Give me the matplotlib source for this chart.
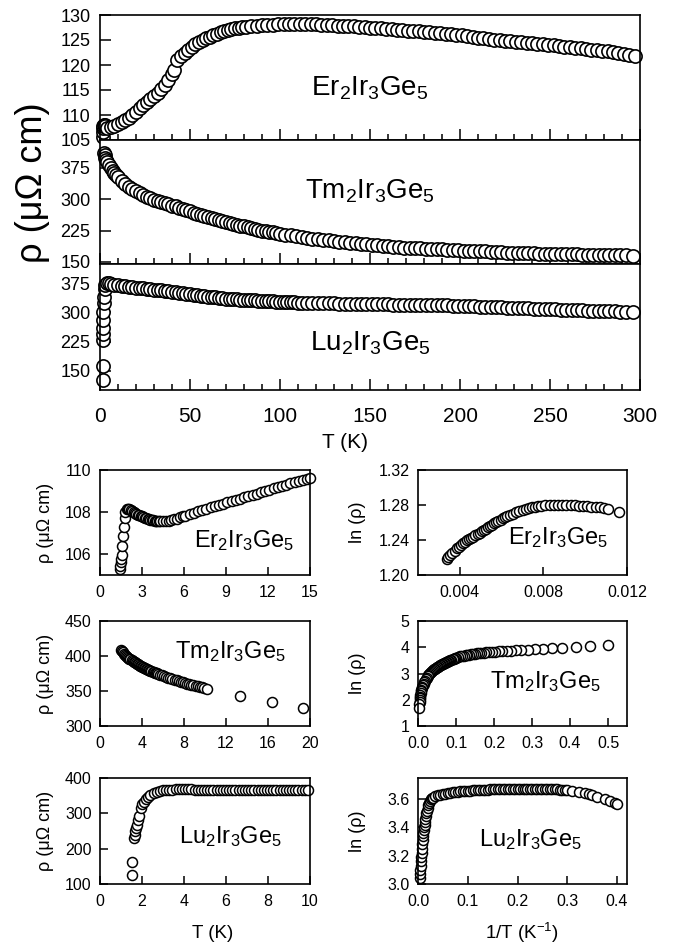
import matplotlib.pyplot as plt

plt.rcParams['font.family'] = ['Liberation Sans', 'DejaVu Sans']
plt.rcParams['mathtext.fontset'] = 'custom'
plt.rcParams['mathtext.rm'] = 'Liberation Sans'
plt.rcParams['mathtext.it'] = 'Liberation Sans:italic'
plt.rcParams['mathtext.default'] = 'regular'

# ---------------- full temperature range (0-300 K) ----------------
er_T = [1.5, 1.6, 1.7, 1.8, 2, 2.5, 3, 4, 6, 8, 10, 12, 14, 16, 18, 20, 22, 24, 26, 28,
        30, 32, 34, 36, 38, 40, 41, 43, 45, 47, 49, 51, 53, 55, 57, 59, 61, 63, 65, 67,
        69, 71, 73, 75, 77, 79, 81, 84, 87, 90, 93, 96, 99, 102, 105, 108, 111, 114,
        117, 120, 123, 126, 129, 132, 135, 138, 141, 144, 147, 150, 153, 156, 159, 162,
        165, 168, 171, 174, 177, 180, 183, 186, 189, 192, 195, 198, 201, 204, 207, 210,
        213, 216, 219, 222, 225, 228, 231, 234, 237, 240, 243, 246, 249, 252, 255, 258,
        261, 264, 267, 270, 273, 276, 279, 282, 285, 288, 291, 294, 297]
er_rho = [105.6, 106.6, 107.4, 107.9, 108.1, 108.0, 107.8, 107.4, 107.6, 107.9, 108.3,
          108.7, 109.1, 109.5, 110.1, 110.7, 111.4, 112.1, 112.7, 113.2, 113.8, 114.5,
          115.2, 116.0, 117.0, 118.2, 119.0, 121.0, 121.8, 122.5, 123.1, 123.7, 124.2,
          124.6, 125.0, 125.4, 125.7, 126.0, 126.3, 126.6, 126.9, 127.1, 127.3, 127.4,
          127.5, 127.6, 127.7, 127.8, 127.9, 128.0, 128.1, 128.1, 128.2, 128.2, 128.2,
          128.3, 128.3, 128.3, 128.2, 128.2, 128.1, 128.1, 128.0, 127.9, 127.9, 127.8,
          127.8, 127.7, 127.6, 127.5, 127.4, 127.4, 127.3, 127.2, 127.1, 127.0, 126.9,
          126.9, 126.8, 126.7, 126.6, 126.5, 126.4, 126.3, 126.2, 126.1, 126.0, 125.8,
          125.7, 125.5, 125.4, 125.2, 125.1, 125.0, 124.9, 124.8, 124.7, 124.6, 124.5,
          124.4, 124.3, 124.2, 124.1, 124.0, 123.8, 123.7, 123.6, 123.5, 123.4, 123.2,
          123.1, 123.0, 122.9, 122.8, 122.6, 122.4, 122.2, 122.0, 121.8]

tm_T = [2, 2.5, 3, 3.5, 4, 5, 6, 7, 8, 9, 10, 12, 14, 16, 18, 20, 22, 24, 26, 28, 30,
        32, 34, 36, 38, 40, 42, 44, 46, 48, 50, 52, 54, 56, 58, 60, 62, 64, 66, 68, 70,
        72, 74, 76, 78, 80, 82, 84, 86, 88, 90, 92, 94, 96, 98, 100, 103, 106, 109, 112,
        115, 118, 121, 124, 127, 130, 133, 136, 139, 142, 145, 148, 151, 154, 157, 160,
        163, 166, 169, 172, 175, 178, 181, 184, 187, 190, 193, 196, 199, 202, 205, 208,
        211, 214, 217, 220, 223, 226, 229, 232, 235, 238, 241, 244, 247, 250, 253, 256,
        259, 262, 265, 268, 271, 274, 277, 280, 283, 286, 289, 292, 296]
tm_rho = [410, 405, 400, 395, 390, 382, 375, 368, 362, 357, 353, 344, 337, 330, 324, 319,
          314, 310, 306, 302, 299, 296, 293, 290, 288, 285, 283, 280, 277, 274, 271, 268,
          265, 262, 260, 257, 255, 252, 250, 248, 245, 243, 241, 239, 237, 235, 233, 231,
          229, 227, 225, 223.5, 222, 220.5, 219, 217.5, 215.5, 213.5, 211.5, 209.5, 208,
          206, 204.5, 203, 201.5, 200, 198.5, 197, 196, 194.5, 193.5, 192, 191, 190,
          188.5, 187.5, 186.5, 185.5, 184.5, 184, 183.5, 183, 182, 181.5, 180.5, 180, 179,
          178.5, 178, 177, 176.5, 176, 175.5, 175, 174.5, 174, 173, 172.5, 172, 172, 171.5,
          171, 170.5, 170, 170, 169.5, 169, 169, 168.5, 168, 168, 167.5, 167, 167, 166.5,
          166.5, 166, 166, 165.5, 165.5, 165]

lu_T = [1.5, 1.5, 1.6, 1.7, 1.75, 1.8, 1.9, 2.0, 2.2, 2.5, 3, 4, 5, 6, 8, 10, 12, 14,
        16, 18, 20, 22, 24, 26, 28, 30, 32, 34, 36, 38, 40, 42, 44, 46, 48, 50, 52, 54,
        56, 58, 60, 62, 64, 66, 68, 70, 72, 74, 76, 78, 80, 82, 84, 86, 88, 90, 92, 94,
        96, 98, 100, 102, 104, 106, 108, 110, 112, 115, 118, 121, 124, 127, 130, 133, 136,
        139, 142, 145, 148, 151, 154, 157, 160, 163, 166, 169, 172, 175, 178, 181, 184,
        187, 190, 193, 196, 199, 202, 205, 208, 211, 214, 217, 220, 223, 226, 229, 232,
        235, 238, 241, 244, 247, 250, 253, 256, 259, 262, 265, 268, 271, 274, 277, 280,
        283, 286, 289, 292, 296]
lu_rho = [125, 162, 230, 245, 260, 280, 300, 325, 340, 360, 372, 375, 375, 374, 372, 370,
          368.5, 367, 366, 365, 364, 363, 362, 361, 360, 359, 358, 357, 356, 355, 354, 352.5,
          351, 349.5, 348, 347, 346, 344.5, 343, 342, 341, 340, 339, 338, 337, 336, 335,
          334.5, 334, 333, 332.5, 332, 331.5, 331, 330.5, 330, 329.5, 329, 328.5, 328,
          327.5, 327, 326.5, 326, 326, 325.5, 325, 325, 324.5, 324, 324, 323.5, 323.5, 323,
          323, 322.5, 322.5, 322, 322, 321.5, 321.5, 321, 321, 320.5, 320.5, 320, 320,
          319.5, 319.5, 319, 319, 318.5, 318, 318, 317.5, 317, 316.5, 316, 315.5, 315,
          314.5, 314, 313.5, 313, 312.5, 312, 311.5, 311, 310.5, 310, 309.5, 309, 308.5,
          308, 307.5, 307, 306.5, 306, 305.5, 305, 304.5, 304, 303.5, 303, 302.5, 302,
          302, 301.5]

# ---------------- low temperature detail ----------------
er_lowT = [1.45, 1.45, 1.5, 1.5, 1.55, 1.6, 1.65, 1.7, 1.75, 1.8, 1.9, 2.0, 2.1, 2.2,
           2.3, 2.4, 2.5, 2.6, 2.7, 2.8, 2.9, 3.0, 3.1, 3.2, 3.3, 3.4, 3.5, 3.6, 3.7, 3.8,
           3.9, 4.0, 4.1, 4.2, 4.3, 4.5, 4.7, 4.9, 5.1, 5.3, 5.5, 5.7, 5.9, 6.1, 6.4, 6.7,
           7.0, 7.3, 7.6, 7.9, 8.2, 8.5, 8.8, 9.1, 9.4, 9.7, 10.0, 10.3, 10.6, 10.9, 11.2,
           11.5, 11.8, 12.1, 12.4, 12.7, 13.0, 13.3, 13.6, 13.9, 14.2, 14.5, 14.8, 15.0]
er_lowrho = [105.3, 105.45, 105.6, 105.75, 105.95, 106.4, 106.85, 107.3, 107.7, 108.0,
             108.15, 108.15, 108.12, 108.08, 108.04, 108.0, 107.96, 107.92, 107.88,
             107.85, 107.82, 107.79, 107.76, 107.73, 107.7, 107.68, 107.66, 107.64,
             107.62, 107.6, 107.58, 107.57, 107.56, 107.55, 107.55, 107.55, 107.56,
             107.58, 107.61, 107.65, 107.69, 107.74, 107.79, 107.83, 107.9, 107.97,
             108.04, 108.1, 108.16, 108.22, 108.28, 108.34, 108.4, 108.46, 108.52, 108.58,
             108.64, 108.7, 108.76, 108.82, 108.88, 108.94, 109.0, 109.06, 109.12, 109.18,
             109.24, 109.3, 109.36, 109.42, 109.48, 109.54, 109.58, 109.6]

tm_lowT = [2.0, 2.1, 2.2, 2.3, 2.4, 2.5, 2.6, 2.7, 2.8, 2.9, 3.0, 3.1, 3.2, 3.3, 3.4, 3.5,
           3.6, 3.7, 3.8, 3.9, 4.0, 4.1, 4.2, 4.3, 4.4, 4.5, 4.6, 4.7, 4.8, 4.9, 5.0, 5.1,
           5.2, 5.3, 5.4, 5.5, 5.7, 5.9, 6.1, 6.3, 6.5, 6.7, 6.9, 7.1, 7.3, 7.5, 7.7, 7.9,
           8.1, 8.3, 8.5, 8.7, 8.9, 9.1, 9.3, 9.5, 9.7, 9.9, 10.2, 13.3, 16.4, 19.3]
tm_lowrho = [409, 407, 405, 403, 401.5, 400, 398.7, 397.5, 396.2, 395, 394, 393, 392, 391,
             390, 389, 388, 387, 386.2, 385.5, 384.7, 384, 383.2, 382.5, 381.7, 381, 380.2,
             379.5, 378.7, 378, 377.5, 377, 376.2, 375.5, 375, 374.5, 373.5, 372.5, 371,
             370, 369, 368, 367, 366, 365, 364.5, 363.5, 362.5, 361.5, 360.5, 360, 359,
             358, 357.5, 356.5, 356, 355, 354, 353, 343, 334, 326]

lu_lowT = [1.5, 1.5, 1.62, 1.65, 1.68, 1.72, 1.75, 1.8, 1.87, 1.95, 2.0, 2.1, 2.2, 2.3,
           2.4, 2.55, 2.7, 2.85, 3.0, 3.15, 3.3, 3.45, 3.6, 3.75, 3.9, 4.05, 4.2, 4.35,
           4.5, 4.65, 4.8, 4.95, 5.1, 5.25, 5.4, 5.55, 5.7, 5.85, 6.0, 6.15, 6.3, 6.45,
           6.6, 6.75, 6.9, 7.05, 7.2, 7.35, 7.5, 7.65, 7.8, 7.95, 8.1, 8.25, 8.4, 8.55,
           8.7, 8.85, 9.0, 9.15, 9.3, 9.45, 9.6, 9.75, 9.9]
lu_lowrho = [126, 163, 230, 240, 250, 258, 266, 280, 292, 315, 325, 333, 340, 346, 352,
             357, 361, 363.5, 365, 366, 366.5, 367, 367.5, 367.5, 367.5, 367.5, 367.5,
             367.5, 367, 367, 367, 367, 367, 367, 367, 367, 367, 367, 367, 366.5, 366.5,
             366.5, 366.5, 366.5, 366.5, 366.5, 366.5, 366.5, 366.5, 366.5, 366.5, 366.5,
             366.5, 366.5, 366.5, 366.5, 366.5, 366.5, 366.5, 366.5, 366.5, 366.5, 366.5,
             366.5, 366.5]

# ---------------- ln(rho) against 1/T ----------------
er_invT = [0.00337, 0.00345, 0.00355, 0.00365, 0.00375, 0.00385, 0.00395, 0.00405,
           0.00415, 0.00425, 0.00435, 0.00445, 0.00455, 0.00465, 0.00475, 0.00485,
           0.00495, 0.00505, 0.00515, 0.00525, 0.00535, 0.00545, 0.00555, 0.00565,
           0.00575, 0.00585, 0.00595, 0.00605, 0.00615, 0.00625, 0.0064, 0.00655, 0.0067,
           0.00685, 0.007, 0.00715, 0.0073, 0.00745, 0.0076, 0.00775, 0.0079, 0.0081,
           0.0083, 0.0085, 0.0087, 0.0089, 0.0091, 0.0093, 0.0095, 0.0097, 0.0099, 0.0101,
           0.0103, 0.0105, 0.0107, 0.0109, 0.0111, 0.0116]
er_ln = [1.218, 1.2205, 1.2225, 1.225, 1.228, 1.2305, 1.2325, 1.2345, 1.2365, 1.238,
         1.2395, 1.241, 1.2425, 1.244, 1.2455, 1.247, 1.2485, 1.25, 1.2515, 1.253, 1.255,
         1.2562, 1.2577, 1.2592, 1.2607, 1.262, 1.2633, 1.2646, 1.2659, 1.267, 1.2685,
         1.27, 1.2715, 1.2728, 1.2742, 1.2754, 1.2765, 1.2774, 1.2782, 1.2789, 1.2794,
         1.2798, 1.28, 1.2801, 1.2801, 1.28, 1.2799, 1.2797, 1.2795, 1.2792, 1.2789,
         1.2785, 1.2781, 1.2777, 1.2772, 1.2766, 1.2758, 1.2724]

tm_invT = [0.5, 0.452, 0.417, 0.38, 0.352, 0.33, 0.308, 0.289, 0.272, 0.258, 0.245,
           0.233, 0.222, 0.212, 0.203, 0.195, 0.187, 0.18, 0.173, 0.167, 0.161, 0.155,
           0.15, 0.145, 0.14, 0.135, 0.13, 0.125, 0.12, 0.115, 0.11, 0.105, 0.1, 0.097,
           0.094, 0.091, 0.088, 0.085, 0.082, 0.079, 0.076, 0.073, 0.07, 0.0675, 0.065,
           0.0625, 0.06, 0.0575, 0.055, 0.0525, 0.05, 0.0475, 0.045, 0.0425, 0.04, 0.0375,
           0.035, 0.0325, 0.03, 0.0275, 0.025, 0.0225, 0.02, 0.018, 0.016, 0.0145, 0.013,
           0.0115, 0.01, 0.009, 0.008, 0.007, 0.006, 0.0055, 0.005, 0.0045, 0.004, 0.0037,
           0.0033]
tm_ln = [4.07, 4.03, 4.01, 3.98, 3.96, 3.94, 3.93, 3.91, 3.9, 3.89, 3.875, 3.865, 3.855,
         3.845, 3.835, 3.825, 3.815, 3.805, 3.795, 3.785, 3.775, 3.765, 3.755, 3.745,
         3.735, 3.72, 3.71, 3.695, 3.68, 3.665, 3.65, 3.62, 3.59, 3.575, 3.56, 3.54, 3.52,
         3.5, 3.48, 3.465, 3.45, 3.43, 3.41, 3.39, 3.37, 3.35, 3.33, 3.31, 3.29, 3.265,
         3.24, 3.215, 3.19, 3.16, 3.13, 3.1, 3.06, 3.02, 2.98, 2.94, 2.89, 2.84, 2.78,
         2.72, 2.66, 2.61, 2.56, 2.5, 2.44, 2.38, 2.32, 2.26, 2.18, 2.12, 2.06, 2.0, 1.92,
         1.82, 1.7]

lu_invT = [0.0033, 0.004, 0.0047, 0.0054, 0.0061, 0.0068, 0.0075, 0.0082, 0.0089,
           0.0096, 0.0103, 0.011, 0.0118, 0.0126, 0.0134, 0.0142, 0.015, 0.016, 0.017,
           0.018, 0.0192, 0.0205, 0.022, 0.024, 0.026, 0.028, 0.03, 0.035, 0.04, 0.045,
           0.05, 0.055, 0.06, 0.065, 0.07, 0.075, 0.08, 0.085, 0.09, 0.095, 0.1, 0.105,
           0.11, 0.115, 0.12, 0.125, 0.13, 0.135, 0.14, 0.145, 0.15, 0.155, 0.16, 0.165,
           0.17, 0.175, 0.18, 0.185, 0.19, 0.195, 0.2, 0.205, 0.21, 0.215, 0.22, 0.225,
           0.23, 0.235, 0.24, 0.245, 0.25, 0.255, 0.26, 0.265, 0.27, 0.275, 0.28, 0.285,
           0.29, 0.295, 0.3, 0.31, 0.323, 0.335, 0.343, 0.35, 0.36, 0.375, 0.385, 0.395,
           0.4]
lu_ln = [3.04, 3.07, 3.1, 3.13, 3.16, 3.19, 3.22, 3.25, 3.28, 3.31, 3.34, 3.36, 3.38,
         3.4, 3.42, 3.44, 3.46, 3.48, 3.5, 3.52, 3.54, 3.56, 3.575, 3.59, 3.6, 3.607,
         3.612, 3.62, 3.627, 3.632, 3.636, 3.64, 3.643, 3.646, 3.649, 3.651, 3.653, 3.655,
         3.657, 3.658, 3.66, 3.661, 3.662, 3.663, 3.664, 3.665, 3.666, 3.667, 3.668,
         3.669, 3.67, 3.67, 3.671, 3.671, 3.672, 3.672, 3.673, 3.673, 3.674, 3.674, 3.674,
         3.675, 3.675, 3.675, 3.675, 3.675, 3.675, 3.675, 3.675, 3.674, 3.674, 3.673,
         3.673, 3.672, 3.671, 3.67, 3.669, 3.668, 3.667, 3.666, 3.664, 3.66, 3.654, 3.645,
         3.638, 3.63, 3.615, 3.6, 3.59, 3.575, 3.565]

ER = r'Er$_2$Ir$_3$Ge$_5$'
TM = r'Tm$_2$Ir$_3$Ge$_5$'
LU = r'Lu$_2$Ir$_3$Ge$_5$'

W, H = 677, 950
fig = plt.figure(figsize=(W / 100, H / 100), dpi=100)


def panel(left, top, right, bottom):
    ax = fig.add_axes([left / W, 1 - bottom / H, (right - left) / W, (bottom - top) / H])
    for s in ax.spines.values():
        s.set_linewidth(1.2)
    ax.tick_params(which='both', direction='in', top=False, right=False, width=1.1)
    return ax


def circles(ax, x, y, size, edge):
    ax.plot(x, y, 'o', ls='none', mfc='white', mec='black', ms=size, mew=edge,
            clip_on=False)


# top block: three stacked panels sharing T
top_panels = [
    (15, 140, er_T, er_rho, (105, 130), [105, 110, 115, 120, 125, 130], ER, 0.41),
    (140, 264, tm_T, tm_rho, (145, 442), [150, 225, 300, 375], TM, 0.59),
    (264, 390, lu_T, lu_rho, (100, 425), [150, 225, 300, 375], LU, 0.37),
]
for i, (top, bot, x, y, ylim, yt, name, ty) in enumerate(top_panels):
    ax = panel(100, top, 640, bot)
    circles(ax, x, y, 9.5, 1.2)
    ax.set_xlim(0, 300)
    ax.set_ylim(*ylim)
    ax.set_yticks(yt)
    ax.set_xticks(range(0, 301, 50))
    ax.set_xticks(range(0, 301, 10), minor=True)
    ax.tick_params(which='major', length=8)
    ax.tick_params(which='minor', length=4)
    ax.tick_params(axis='y', labelsize=13, pad=7)
    ax.tick_params(axis='x', labelsize=15, pad=12)
    if i < 2:
        ax.tick_params(axis='x', labelbottom=False)
    ax.text(0.5, ty, name, transform=ax.transAxes, fontsize=20, ha='center', va='center')

fig.text(32 / W, 1 - 183 / H, 'ρ (μΩ cm)', rotation=90, fontsize=26, ha='center', va='center')
fig.text(345 / W, 1 - 443 / H, 'T (K)', fontsize=15, ha='center', va='center')

# lower grid: rho(T) at low T on the left, ln(rho) vs 1/T on the right
rows = [(470, 575), (621, 726), (778, 884)]

left_specs = [
    (er_lowT, er_lowrho, (0, 15), range(0, 16, 3), (105, 110), [106, 108, 110], ER, 0.686, 0.33),
    (tm_lowT, tm_lowrho, (0, 20), range(0, 21, 4), (300, 450), [300, 350, 400, 450], TM, 0.62, 0.705),
    (lu_lowT, lu_lowrho, (0, 10), range(0, 11, 2), (100, 400), [100, 200, 300, 400], LU, 0.62, 0.45),
]
right_specs = [
    (er_invT, er_ln, (0.002, 0.012), [0.004, 0.008, 0.012], (1.20, 1.32),
     [1.20, 1.24, 1.28, 1.32], ER, 0.67, 0.36, '%.3f', '%.2f'),
    (tm_invT, tm_ln, (0, 0.55), [0, 0.1, 0.2, 0.3, 0.4, 0.5], (1, 5),
     [1, 2, 3, 4, 5], TM, 0.61, 0.42, '%.1f', '%d'),
    (lu_invT, lu_ln, (0, 0.42), [0, 0.1, 0.2, 0.3, 0.4], (3.0, 3.75),
     [3.0, 3.2, 3.4, 3.6], LU, 0.536, 0.415, '%.1f', '%.1f'),
]

for (top, bot), spec in zip(rows, left_specs):
    x, y, xl, xt, yl, yt, name, tx, ty = spec
    ax = panel(100, top, 310, bot)
    circles(ax, x, y, 7.2, 1.1)
    ax.set_xlim(*xl)
    ax.set_xticks(list(xt))
    ax.set_ylim(*yl)
    ax.set_yticks(yt)
    ax.tick_params(length=6, labelsize=11.5)
    ax.tick_params(axis='x', pad=7.5)
    ax.tick_params(axis='y', pad=6)
    ax.text(tx, ty, name, transform=ax.transAxes, fontsize=17, ha='center', va='center')
    fig.text(45 / W, 1 - (top + bot) / 2 / H, 'ρ (μΩ cm)', rotation=90, fontsize=13,
             ha='center', va='center')

for (top, bot), spec in zip(rows, right_specs):
    x, y, xl, xt, yl, yt, name, tx, ty, xf, yf = spec
    ax = panel(418, top, 627, bot)
    circles(ax, x, y, 7.2, 1.1)
    ax.set_xlim(*xl)
    ax.set_xticks(xt)
    ax.set_xticklabels([xf % v for v in xt])
    ax.set_ylim(*yl)
    ax.set_yticks(yt)
    ax.set_yticklabels([yf % v for v in yt])
    ax.tick_params(length=6, labelsize=11.5)
    ax.tick_params(axis='x', pad=7.5)
    ax.tick_params(axis='y', pad=6)
    ax.text(tx, ty, name, transform=ax.transAxes, fontsize=17, ha='center', va='center')
    fig.text(358 / W, 1 - (top + bot) / 2 / H, 'ln (ρ)', rotation=90, fontsize=13,
             ha='center', va='center')

fig.text(213 / W, 1 - 933 / H, 'T (K)', fontsize=13.5, ha='center', va='center')
fig.text(522 / W, 1 - 933 / H, r'1/T (K$^{-1}$)', fontsize=13.5, ha='center', va='center')

fig.savefig('out.png', dpi=100)
